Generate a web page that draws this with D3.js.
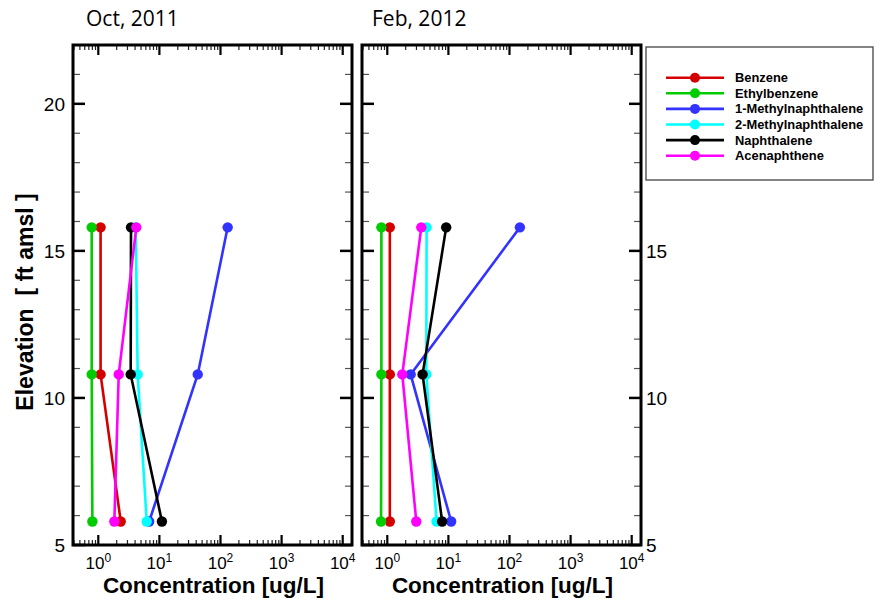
<!DOCTYPE html>
<html>
<head>
<meta charset="utf-8">
<script src="https://cdn.jsdelivr.net/npm/d3@7"></script>
<style>
  html, body { margin: 0; padding: 0; background: #fff; }
  svg { display: block; }
</style>
</head>
<body>
<svg id="chart" width="874" height="603"></svg>
<script>
// Sampling elevations (ft amsl) for the three well depths
const elevations = [15.8, 10.8, 5.8];

const compounds = ["Benzene", "Ethylbenzene", "1-Methylnaphthalene",
                   "2-Methylnaphthalene", "Naphthalene", "Acenaphthene"];
const colors = ["#d40000", "#00cc00", "#3333ff", "#00ffff", "#000000", "#ff00ff"];

const panelTitles = ["Oct, 2011", "Feb, 2012"];

// Concentrations [ug/L], one array per compound, ordered as `elevations`
const oct2011 = {
  "Benzene":             [1.09, 1.09, 2.33],
  "Ethylbenzene":        [0.78, 0.78, 0.80],
  "1-Methylnaphthalene": [131, 42.4, 6.8],
  "2-Methylnaphthalene": [4.1, 4.41, 6.2],
  "Naphthalene":         [3.43, 3.39, 11.0],
  "Acenaphthene":        [4.19, 2.16, 1.83]
};
const feb2012 = {
  "Benzene":             [1.10, 1.10, 1.10],
  "Ethylbenzene":        [0.80, 0.80, 0.79],
  "1-Methylnaphthalene": [148, 2.41, 11.1],
  "2-Methylnaphthalene": [4.4, 4.35, 6.4],
  "Naphthalene":         [9.2, 3.78, 7.9],
  "Acenaphthene":        [3.6, 1.76, 2.98]
};
const panelData = [oct2011, feb2012];

// Axis ticks
const yMajorTicks = [5, 10, 15, 20];
const yMinorTicks = [6, 7, 8, 9, 11, 12, 13, 14, 16, 17, 18, 19, 21];
const xMajorExponents = [0, 1, 2, 3, 4];
const xDomain = [0.3855, 14190];
const yDomain = [5, 22];

const svg = d3.select("#chart");
const font = "'Liberation Sans', Arial, sans-serif";

const plotTop = 45, plotBottom = 545;
const panels = [{ x0: 73, x1: 352, titleX: 86 }, { x0: 362, x1: 641, titleX: 372 }];

const y = d3.scaleLinear().domain(yDomain).range([plotBottom, plotTop]);

// Minor x ticks: 2..9 times each decade, inside the domain
const xMinorTicks = [];
for (let e = -1; e <= 4; e++) {
  for (let m = 2; m <= 9; m++) {
    const v = m * Math.pow(10, e);
    if (v > xDomain[0] && v < xDomain[1]) xMinorTicks.push(v);
  }
}

const legendBox = { x: 646, y: 47, w: 227, h: 133 };

panels.forEach((p, pi) => {
  const x = d3.scaleLog().domain(xDomain).range([p.x0, p.x1]);
  const g = svg.append("g");

  // Tick marks on all four sides, pointing inward
  const tickG = g.append("g");
  xMinorTicks.forEach(v => {
    const px = x(v);
    tickG.append("line").attr("x1", px).attr("x2", px).attr("y1", plotBottom).attr("y2", plotBottom - 5)
      .attr("stroke", "#222").attr("stroke-width", 1.2);
    tickG.append("line").attr("x1", px).attr("x2", px).attr("y1", plotTop).attr("y2", plotTop + 5)
      .attr("stroke", "#222").attr("stroke-width", 1.2);
  });
  xMajorExponents.forEach(e => {
    const px = x(Math.pow(10, e));
    tickG.append("line").attr("x1", px).attr("x2", px).attr("y1", plotBottom).attr("y2", plotBottom - 10)
      .attr("stroke", "#000").attr("stroke-width", 2.2);
    tickG.append("line").attr("x1", px).attr("x2", px).attr("y1", plotTop).attr("y2", plotTop + 10)
      .attr("stroke", "#000").attr("stroke-width", 2.2);
  });
  yMinorTicks.forEach(v => {
    const py = y(v);
    tickG.append("line").attr("x1", p.x0).attr("x2", p.x0 + 7).attr("y1", py).attr("y2", py)
      .attr("stroke", "#555").attr("stroke-width", 1.2);
    tickG.append("line").attr("x1", p.x1).attr("x2", p.x1 - 7).attr("y1", py).attr("y2", py)
      .attr("stroke", "#555").attr("stroke-width", 1.2);
  });
  yMajorTicks.forEach(v => {
    const py = y(v);
    tickG.append("line").attr("x1", p.x0).attr("x2", p.x0 + 12).attr("y1", py).attr("y2", py)
      .attr("stroke", "#000").attr("stroke-width", 2.5);
    tickG.append("line").attr("x1", p.x1).attr("x2", p.x1 - 12).attr("y1", py).attr("y2", py)
      .attr("stroke", "#000").attr("stroke-width", 2.5);
  });

  // x tick labels: 10^n
  xMajorExponents.forEach(e => {
    const t = g.append("text")
      .attr("x", x(Math.pow(10, e)))
      .attr("y", 569)
      .attr("text-anchor", "middle")
      .attr("font-family", font)
      .attr("font-size", 17)
      .attr("fill", "#000");
    t.append("tspan").text("10");
    t.append("tspan").attr("dy", -7).attr("font-size", 12).text(e);
  });

  // y tick labels: left panel on its left, right panel on its right
  yMajorTicks.forEach(v => {
    if (pi === 0) {
      g.append("text")
        .attr("x", 65).attr("y", y(v) + 7)
        .attr("text-anchor", "end")
        .attr("font-family", font).attr("font-size", 19)
        .text(v);
    } else if (y(v) > legendBox.y + legendBox.h) {
      g.append("text")
        .attr("x", 646).attr("y", y(v) + 7)
        .attr("text-anchor", "start")
        .attr("font-family", font).attr("font-size", 19)
        .text(v);
    }
  });

  // Profiles
  const data = panelData[pi];
  const line = d3.line().x(d => x(d[0])).y(d => y(d[1]));
  compounds.forEach((c, ci) => {
    const pts = data[c].map((v, i) => [v, elevations[i]]);
    g.append("path").attr("d", line(pts))
      .attr("fill", "none").attr("stroke", colors[ci]).attr("stroke-width", 2.6);
    g.selectAll(null).data(pts).enter().append("circle")
      .attr("cx", d => x(d[0])).attr("cy", d => y(d[1])).attr("r", 5.2)
      .attr("fill", colors[ci]);
  });

  // Frame
  g.append("rect")
    .attr("x", p.x0).attr("y", plotTop)
    .attr("width", p.x1 - p.x0).attr("height", plotBottom - plotTop)
    .attr("fill", "none").attr("stroke", "#000").attr("stroke-width", 3);

  // Panel title
  g.append("text")
    .attr("x", p.titleX).attr("y", 26)
    .attr("font-family", "'Open Sans', sans-serif").attr("font-size", 21)
    .text(panelTitles[pi]);

  // x axis title
  g.append("text")
    .attr("x", (p.x0 + p.x1) / 2 + 1).attr("y", 593)
    .attr("text-anchor", "middle")
    .attr("font-family", font).attr("font-size", 22.5).attr("font-weight", "bold")
    .text("Concentration [ug/L]");
});

// y axis title
svg.append("text")
  .attr("transform", "translate(33,302) rotate(-90)")
  .attr("text-anchor", "middle")
  .attr("font-family", font).attr("font-size", 23).attr("font-weight", "bold")
  .attr("xml:space", "preserve")
  .text("Elevation  [ ft amsl ]");

// Legend
const lg = svg.append("g");
lg.append("rect")
  .attr("x", legendBox.x).attr("y", legendBox.y)
  .attr("width", legendBox.w).attr("height", legendBox.h)
  .attr("fill", "#fff").attr("stroke", "#444").attr("stroke-width", 1.3);
compounds.forEach((c, ci) => {
  const ly = 77.7 + ci * 15.6;
  lg.append("line").attr("x1", 666).attr("x2", 724).attr("y1", ly).attr("y2", ly)
    .attr("stroke", colors[ci]).attr("stroke-width", 2.6);
  lg.append("circle").attr("cx", 695).attr("cy", ly).attr("r", 5)
    .attr("fill", colors[ci]);
  lg.append("text").attr("x", 735).attr("y", ly + 4.5)
    .attr("font-family", font).attr("font-size", 12.9).attr("font-weight", "bold")
    .text(c);
});
</script>
</body>
</html>
